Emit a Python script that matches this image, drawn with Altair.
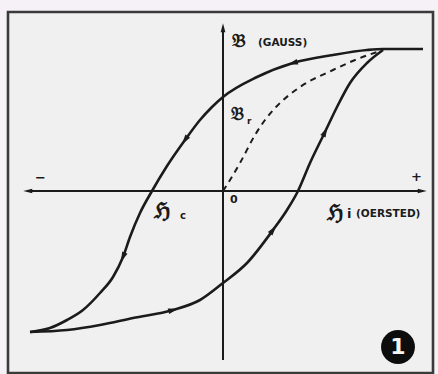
import math
import altair as alt
import pandas as pd

# Hysteresis loop of a ferromagnetic material, H in oersted, B in gauss (arbitrary units)
# Descending branch: from positive saturation to negative saturation
down_h = [20.0, 16.0, 14.4, 11.0, 7.0, 3.4, 0.0, -1.1, -2.3, -3.8, -5.6, -7.1,
          -8.3, -9.3, -10.0, -11.0, -12.3, -14.0, -15.6, -17.3, -19.3]
down_b = [14.2, 14.2, 14.1, 13.6, 12.8, 11.4, 9.4, 8.4, 7.1, 5.1, 2.5, 0.0,
          -2.2, -4.6, -6.6, -8.6, -10.2, -11.9, -12.9, -13.7, -14.1]

# Ascending branch: from negative saturation back to positive saturation
up_h = [-19.3, -15.6, -12.3, -9.0, -5.0, -2.3, 0.0, 2.4, 5.0, 6.4, 7.5,
        8.7, 10.2, 11.4, 12.7, 14.4, 16.0]
up_b = [-14.1, -13.9, -13.4, -12.7, -11.9, -10.9, -9.2, -7.2, -3.9, -1.9, 0.0,
        2.8, 5.9, 8.4, 10.8, 12.8, 14.1]

# Initial magnetisation curve (dashed)
init_h = [0.0, 0.7, 1.7, 3.2, 4.2, 5.4, 7.7, 11.0, 13.2, 16.0]
init_b = [0.0, 1.1, 2.8, 5.6, 7.1, 8.5, 10.4, 12.1, 13.1, 14.1]

# Where the direction arrows sit on each branch (indices into the arrays)
down_arrow_idx = [4, 9, 14]
up_arrow_idx = [4, 8, 12]

# Axis extents
h_axis = [-19.5, 19.9]
b_axis = [-16.9, 16.3]

X_DOM = [-22.3, 21.5]
Y_DOM = [-18.3, 19.1]
INK = "#1b1b1b"

xs = alt.Scale(domain=X_DOM, range=[0, 438], zero=False, nice=False)
ys = alt.Scale(domain=Y_DOM, range=[374, 0], zero=False, nice=False)


def arrow_rows(hs, bs, idx):
    rows = []
    for i in idx:
        dx = hs[i + 1] - hs[i - 1]
        db = bs[i + 1] - bs[i - 1]
        ang = math.degrees(math.atan2(dx, db)) % 360
        rows.append({"h": hs[i], "b": bs[i], "ang": ang})
    return rows


X = alt.X("h:Q", scale=xs, axis=None)
Y = alt.Y("b:Q", scale=ys, axis=None)

# panel background and frame
panel = alt.Chart(pd.DataFrame({"k": [0]})).mark_rect(
    fill="#f0f0f0", stroke="#3a3a3a", strokeWidth=2.6
).encode(x=alt.value(8), x2=alt.value(433), y=alt.value(12), y2=alt.value(373))

# axes
axes_df = pd.DataFrame({
    "h": [h_axis[0], 0.0], "h2": [h_axis[1], 0.0],
    "b": [0.0, b_axis[0]], "b2": [0.0, b_axis[1]],
})
axes = alt.Chart(axes_df).mark_rule(color=INK, strokeWidth=2).encode(
    x=X, x2="h2:Q", y=Y, y2="b2:Q")

axis_heads = alt.Chart(pd.DataFrame({
    "h": [h_axis[0], h_axis[1], 0.0],
    "b": [0.0, 0.0, b_axis[1]],
    "ang": [270, 90, 0],
})).mark_point(shape="M0,-1L0.5,0.9L-0.5,0.9Z", filled=True, color=INK,
               opacity=1, size=90).encode(x=X, y=Y, angle=alt.Angle("ang:Q", scale=None))


def branch(hs, bs, **style):
    return alt.Chart(pd.DataFrame({"h": hs, "b": bs})).mark_line(
        color=INK, interpolate="monotone", **style).encode(x=X, y=Y, order="h:Q")


down_line = branch(down_h, down_b, strokeWidth=2.6)
up_line = branch(up_h, up_b, strokeWidth=2.6)
init_line = branch(init_h, init_b, strokeWidth=2, strokeDash=[6, 5])

heads = pd.DataFrame(arrow_rows(down_h, down_b, down_arrow_idx)
                     + arrow_rows(up_h, up_b, up_arrow_idx))
curve_heads = alt.Chart(heads).mark_point(
    shape="M0,-1L0.55,0.9L-0.55,0.9Z", filled=True, color=INK, opacity=1, size=110
).encode(x=X, y=Y, angle=alt.Angle("ang:Q", scale=None))

# symbols in blackletter
big = pd.DataFrame({
    "h": [0.9, 0.8, -6.9, 10.4],
    "b": [15.0, 7.6, -2.0, -2.2],
    "t": ["𝔅", "𝔅", "ℌ", "ℌ"],
    "s": [19, 18, 22, 22],
})
big_text = alt.Chart(big).mark_text(
    font="DejaVu Serif", color=INK, align="left", baseline="middle", fontWeight="bold"
).encode(x=X, y=Y, text="t:N", size=alt.Size("s:Q", scale=None))

small = pd.DataFrame({
    "h": [3.5, 2.4, -4.3, 12.4, 13.3, 0.7, -18.8, 18.8],
    "b": [14.8, 7.0, -2.5, -2.3, -2.3, -0.9, 1.3, 1.4],
    "t": ["(GAUSS)", "r", "c", "i", "(OERSTED)", "0", "−", "+"],
    "s": [10.5, 9, 10, 13, 10.5, 11, 13, 13],
})
small_text = alt.Chart(small).mark_text(
    font="DejaVu Sans", color=INK, align="left", baseline="middle", fontWeight="bold"
).encode(x=X, y=Y, text="t:N", size=alt.Size("s:Q", scale=None))

badge = alt.Chart(pd.DataFrame({"h": [17.5], "b": [-15.6], "t": ["1"]}))
badge_dot = badge.mark_point(shape="circle", filled=True, color="#0d0d0d", opacity=1,
                             size=1150).encode(x=X, y=Y)
badge_num = badge.mark_text(font="DejaVu Sans", fontSize=22, fontWeight="bold",
                            color="#f4f4f4", baseline="middle").encode(x=X, y=Y, text="t:N")

chart = alt.layer(
    panel, axes, axis_heads, init_line, down_line, up_line, curve_heads,
    big_text, small_text, badge_dot, badge_num
).properties(
    width=438, height=374, background="#f6f1f6", padding=0,
    autosize=alt.AutoSizeParams(type="none")
).configure_view(stroke=None)

chart.save("out.html", embed_options={"renderer": "svg", "actions": False})
